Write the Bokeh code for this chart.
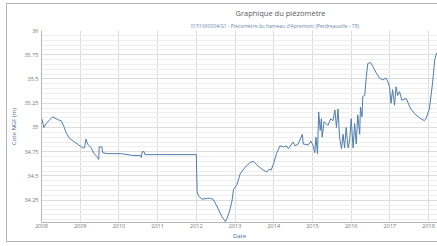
from bokeh.plotting import figure
from bokeh.models import Range1d, FixedTicker, Title, CustomJSTickFormatter
from bokeh.embed import file_html
from bokeh.resources import INLINE

# decimal years and levels (m NGF)
years = [2008.01, 2008.06, 2008.12, 2008.29, 2008.42, 2008.51, 2008.59, 2008.63, 2008.72,
         2008.85, 2008.93, 2009.06, 2009.11, 2009.15, 2009.19, 2009.28, 2009.36, 2009.45,
         2009.47, 2009.48, 2009.49, 2009.56, 2009.58, 2009.70, 2010.05, 2010.39, 2010.56,
         2010.58, 2010.60, 2010.65, 2010.67, 2012.00, 2012.02, 2012.06, 2012.15, 2012.28,
         2012.36, 2012.43, 2012.53, 2012.66, 2012.75, 2012.79, 2012.86, 2012.92, 2012.96,
         2013.05, 2013.13, 2013.26, 2013.39, 2013.48, 2013.60, 2013.73, 2013.82, 2013.88,
         2013.93, 2013.99, 2014.07, 2014.16, 2014.25, 2014.33, 2014.38, 2014.46, 2014.50,
         2014.55, 2014.63, 2014.74, 2014.76, 2014.89, 2014.96, 2015.02, 2015.06, 2015.09,
         2015.13, 2015.16, 2015.20, 2015.23, 2015.25, 2015.30, 2015.40, 2015.47, 2015.53,
         2015.58, 2015.62, 2015.66, 2015.70, 2015.75, 2015.79, 2015.83, 2015.87, 2015.92,
         2015.96, 2016.00, 2016.05, 2016.09, 2016.13, 2016.17, 2016.22, 2016.24, 2016.28,
         2016.30, 2016.35, 2016.39, 2016.43, 2016.50, 2016.56, 2016.65, 2016.73, 2016.82,
         2016.90, 2016.95, 2016.99, 2017.03, 2017.07, 2017.12, 2017.16, 2017.20, 2017.25,
         2017.31, 2017.42, 2017.54, 2017.67, 2017.80, 2017.89, 2017.93, 2018.02, 2018.10,
         2018.16, 2018.21]
levels = [35.09, 35.00, 35.04, 35.11, 35.08, 35.07, 35.00, 34.95, 34.89,
          34.85, 34.83, 34.79, 34.79, 34.88, 34.83, 34.79, 34.73, 34.69,
          34.67, 34.68, 34.80, 34.80, 34.74, 34.73, 34.73, 34.71, 34.71,
          34.69, 34.75, 34.75, 34.72, 34.72, 34.34, 34.29, 34.26, 34.27,
          34.27, 34.26, 34.19, 34.08, 34.03, 34.06, 34.14, 34.24, 34.36,
          34.41, 34.52, 34.59, 34.64, 34.65, 34.60, 34.56, 34.54, 34.57,
          34.56, 34.62, 34.73, 34.81, 34.80, 34.81, 34.78, 34.83, 34.85,
          34.81, 34.83, 34.93, 34.83, 34.82, 34.86, 34.81, 34.74, 34.90,
          34.73, 35.16, 34.97, 35.09, 34.90, 35.06, 35.02, 35.09, 35.07,
          35.18, 35.00, 35.19, 34.90, 34.78, 34.93, 34.79, 35.00, 34.79,
          34.86, 35.09, 34.79, 35.04, 34.83, 35.13, 34.93, 35.21, 35.11,
          35.32, 35.33, 35.52, 35.66, 35.67, 35.63, 35.56, 35.51, 35.49,
          35.51, 35.47, 35.42, 35.25, 35.39, 35.23, 35.42, 35.33, 35.37,
          35.28, 35.30, 35.19, 35.13, 35.09, 35.07, 35.09, 35.19, 35.45,
          35.70, 35.77]

year_ticks = [2008, 2009, 2010, 2011, 2012, 2013, 2014, 2015, 2016, 2017, 2018]
level_ticks = [34.25, 34.5, 34.75, 35.0, 35.25, 35.5, 35.75, 36.0]
minor_ticks = [round(34.05 + 0.05 * i, 2) for i in range(40)]

title_text = "Graphique du piézomètre"
subtitle_text = "01516X0004/S1 - Piézomètre du hameau d'Apremont (Perdreauville - 78)"

font = "Open Sans"

p = figure(width=431, height=239, output_backend="svg", toolbar_location=None,
           title=None,
           x_range=Range1d(2008, 2018.23), y_range=Range1d(34.02, 36.0),
           min_border_left=30, min_border_right=1, min_border_top=0, min_border_bottom=21)
p.margin = (3, 0, 0, 6)
p.styles = {"border-top": "1px solid #b4b4b4", "border-left": "1px solid #b4b4b4",
            "border-bottom": "1px solid #b4b4b4", "box-sizing": "border-box"}
p.outline_line_color = None
p.background_fill_color = "white"
p.border_fill_color = "white"

p.line(years, levels, line_color="#4f7db0", line_width=1)

p.xaxis.ticker = FixedTicker(ticks=year_ticks)
p.yaxis.ticker = FixedTicker(ticks=level_ticks, minor_ticks=minor_ticks)
p.yaxis.formatter = CustomJSTickFormatter(code="return String(Math.round(tick*100)/100);")
for ax in (p.xaxis[0], p.yaxis[0]):
    ax.major_label_text_font = font
    ax.major_label_text_font_size = "5.5px"
    ax.major_label_text_color = "#777777"
    ax.axis_line_color = "#b8b8b8"
    ax.major_tick_line_color = None
    ax.minor_tick_line_color = None
    ax.major_tick_out = 0
    ax.minor_tick_out = 0
    ax.major_tick_in = 0
    ax.minor_tick_in = 0
    ax.axis_label_text_font = font
    ax.axis_label_text_font_size = "6px"
    ax.axis_label_text_font_style = "normal"
    ax.axis_label_text_color = "#4d6f9c"
p.xaxis.major_label_standoff = 1
p.yaxis.major_label_standoff = 3
p.xaxis.axis_label = "Date"
p.yaxis.axis_label = "Cote NGF (m)"
p.xaxis.axis_label_standoff = 1
p.yaxis.axis_label_standoff = 3

p.xgrid.grid_line_color = "#dcdcdc"
p.ygrid.grid_line_color = "#dcdcdc"
p.ygrid.minor_grid_line_color = "#eeeeee"

p.add_layout(Title(text=subtitle_text, align="left", offset=149, standoff=4,
                   text_font=font, text_font_size="5px", text_font_style="normal",
                   text_color="#6a86aa"), "above")
p.add_layout(Title(text=title_text, align="left", offset=194, standoff=2,
                   text_font=font, text_font_size="7.5px", text_font_style="normal",
                   text_color="#5a5a5a"), "above")

open("out.html", "w").write(file_html(p, INLINE))
